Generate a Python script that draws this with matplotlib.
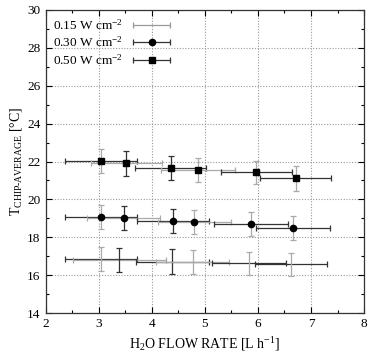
import matplotlib
matplotlib.use("Agg")
import matplotlib.pyplot as plt
import numpy as np
from matplotlib.ticker import MultipleLocator
from matplotlib.container import ErrorbarContainer
from matplotlib.legend_handler import HandlerErrorbar

# Data
x015 = [3.04, 3.39, 4.39, 4.77, 5.83, 6.62]
y015 = [16.85, 16.78, 16.71, 16.69, 16.63, 16.58]
xerr015 = [0.68, 0.88, 0.68, 0.68, 0.70, 0.68]
yerr015 = [0.65, 0.63, 0.65, 0.65, 0.62, 0.61]

x030 = [3.04, 3.47, 4.40, 4.80, 5.87, 6.66]
y030 = [19.05, 19.00, 18.84, 18.80, 18.69, 18.48]
xerr030 = [0.68, 0.68, 0.68, 0.69, 0.70, 0.70]
yerr030 = [0.63, 0.63, 0.63, 0.64, 0.62, 0.64]

x050 = [3.05, 3.52, 4.36, 4.87, 5.97, 6.71]
y050 = [22.05, 21.90, 21.67, 21.55, 21.43, 21.11]
xerr050 = [0.68, 0.67, 0.67, 0.69, 0.67, 0.67]
yerr050 = [0.63, 0.64, 0.63, 0.64, 0.62, 0.64]

labels = ["0.15 W cm$^{-2}$", "0.30 W cm$^{-2}$", "0.50 W cm$^{-2}$"]

plt.rcParams['font.family'] = ['Liberation Serif', 'DejaVu Serif']
plt.rcParams['mathtext.fontset'] = 'custom'
plt.rcParams['mathtext.rm'] = 'Liberation Serif'
plt.rcParams['mathtext.it'] = 'Liberation Serif'

fig = plt.figure(figsize=(3.70, 3.55), dpi=100)
ax = fig.add_axes([0.123, 0.118, 0.861, 0.854])

dark = '#333333'
light = '#aaaaaa'

series = [
    (x015, y015, xerr015, yerr015, 'none', 0),
    (x030, y030, xerr030, yerr030, 'o', 4.5),
    (x050, y050, xerr050, yerr050, 's', 5),
]

# colours alternate point by point (x-bar colour, y-bar colour)
xcols = [dark, light, dark, light, dark, dark]
ycols = [light, dark, dark, light, light, light]

for xs, ys, xe, ye, mk, ms in series:
    for i in range(len(xs)):
        ax.errorbar([xs[i]], [ys[i]], xerr=[xe[i]], fmt='none',
                    ecolor=xcols[i], elinewidth=0.9, capsize=2.5, capthick=0.9, zorder=2)
        ax.errorbar([xs[i]], [ys[i]], yerr=[ye[i]], fmt='none',
                    ecolor=ycols[i], elinewidth=0.9, capsize=2.5, capthick=0.9, zorder=2)
    if mk != 'none':
        ax.plot(xs, ys, linestyle='none', marker=mk, markersize=ms, color='black', zorder=3)

# legend handles (invisible NaN points, only used for the legend)
nan = [np.nan]
h1 = ax.errorbar(nan, nan, xerr=[1.0], fmt='none', ecolor='#999999', elinewidth=0.9,
                 capsize=2.5, capthick=0.9)
h2 = ax.errorbar(nan, nan, xerr=[1.0], fmt='o', color='black', ecolor=dark, markersize=4.5,
                 elinewidth=0.9, capsize=2.5, capthick=0.9)
h3 = ax.errorbar(nan, nan, xerr=[1.0], fmt='s', color='black', ecolor=dark, markersize=5,
                 elinewidth=0.9, capsize=2.5, capthick=0.9)
leg = ax.legend([h1, h2, h3], labels, loc='upper left', frameon=False, markerfirst=False,
                fontsize=9.5, handlelength=2.9, handletextpad=0.7, labelspacing=0.22,
                borderaxespad=0.2, bbox_to_anchor=(0.0, 1.0), numpoints=1,
                handler_map={ErrorbarContainer: HandlerErrorbar(xerr_size=1.42)})

ax.set_xlim(2, 8)
ax.set_ylim(14, 30)
ax.xaxis.set_major_locator(MultipleLocator(1))
ax.xaxis.set_minor_locator(MultipleLocator(0.5))
ax.yaxis.set_major_locator(MultipleLocator(2))
ax.yaxis.set_minor_locator(MultipleLocator(1))
ax.tick_params(which='both', direction='in', top=True, right=True, labelsize=9.5, width=0.8)
ax.tick_params(which='major', length=4)
ax.tick_params(which='minor', length=2.5)
ax.grid(True, which='major', linestyle=(0, (1, 1.5)), color='#999999', linewidth=0.8)
for s in ax.spines.values():
    s.set_linewidth(0.9)
    s.set_color('#333333')

ax.set_xlabel("H$_2$O FLOW RATE [L h$^{-1}$]", fontsize=10, labelpad=4)
ax.set_ylabel("T$_{\\mathrm{CHIP\\text{-}AVERAGE}}$ [°C]", fontsize=10, labelpad=2)

fig.savefig("out.png", dpi=100)
